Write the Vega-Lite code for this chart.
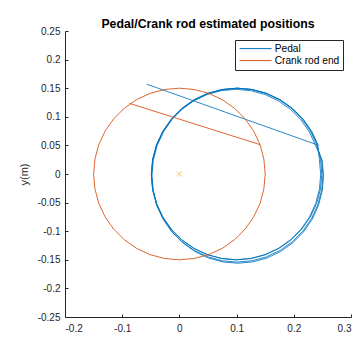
{
  "$schema": "https://vega.github.io/schema/vega-lite/v6.json",
  "width": 286,
  "height": 286,
  "autosize": {"type": "none"},
  "padding": {"left": 65, "top": 31, "right": 9, "bottom": 21},
  "background": "white",
  "config": {
    "font": "Liberation Sans",
    "view": {"stroke": null},
    "axis": {
      "grid": false,
      "domainColor": "#262626",
      "tickColor": "#262626",
      "labelColor": "#262626",
      "labelFontSize": 10,
      "tickSize": -3,
      "titleColor": "#262626",
      "titleFontWeight": "normal",
      "titleFontSize": 11
    }
  },
  "title": {"text": "Pedal/Crank rod estimated positions", "fontSize": 12.3, "fontWeight": "bold", "color": "#000000", "offset": -4.3, "anchor": "middle"},
  "datasets": {
    "pedal": [
      {"i":0,"x":-0.057,"y":0.157},{"i":1,"x":0.2400,"y":0.0513},
      {"i":2,"x":0.2467,"y":0.0260},{"i":3,"x":0.2490,"y":0},{"i":4,"x":0.2467,"y":-0.0260},{"i":5,"x":0.2400,"y":-0.0513},{"i":6,"x":0.2290,"y":-0.075},{"i":7,"x":0.2141,"y":-0.0964},{"i":8,"x":0.1958,"y":-0.1149},{"i":9,"x":0.1745,"y":-0.1299},{"i":10,"x":0.1510,"y":-0.1410},{"i":11,"x":0.1259,"y":-0.1477},{"i":12,"x":0.1000,"y":-0.150},{"i":13,"x":0.0741,"y":-0.1477},{"i":14,"x":0.0490,"y":-0.1410},{"i":15,"x":0.0255,"y":-0.1299},{"i":16,"x":0.0042,"y":-0.1149},{"i":17,"x":-0.0141,"y":-0.0964},{"i":18,"x":-0.0290,"y":-0.075},{"i":19,"x":-0.0400,"y":-0.0513},{"i":20,"x":-0.0467,"y":-0.0260},{"i":21,"x":-0.0490,"y":0},{"i":22,"x":-0.0467,"y":0.0260},{"i":23,"x":-0.0400,"y":0.0513},{"i":24,"x":-0.0290,"y":0.075},{"i":25,"x":-0.0141,"y":0.0964},{"i":26,"x":0.0042,"y":0.1149},{"i":27,"x":0.0255,"y":0.1299},{"i":28,"x":0.0490,"y":0.1410},{"i":29,"x":0.0741,"y":0.1477},{"i":30,"x":0.1000,"y":0.150},{"i":31,"x":0.1259,"y":0.1477},{"i":32,"x":0.1510,"y":0.1410},{"i":33,"x":0.1745,"y":0.1299},{"i":34,"x":0.1958,"y":0.1149},{"i":35,"x":0.2141,"y":0.0964},{"i":36,"x":0.2290,"y":0.075},{"i":37,"x":0.2400,"y":0.0513},
      {"i":38,"x":0.2487,"y":0.0244},{"i":39,"x":0.2510,"y":-0.002},{"i":40,"x":0.2487,"y":-0.0284},{"i":41,"x":0.2420,"y":-0.0540},{"i":42,"x":0.2309,"y":-0.078},{"i":43,"x":0.2159,"y":-0.0997},{"i":44,"x":0.1974,"y":-0.1184},{"i":45,"x":0.1760,"y":-0.1336},{"i":46,"x":0.1523,"y":-0.1448},{"i":47,"x":0.1270,"y":-0.1517},{"i":48,"x":0.1010,"y":-0.154},{"i":49,"x":0.0750,"y":-0.1517},{"i":50,"x":0.0497,"y":-0.1448},{"i":51,"x":0.0260,"y":-0.1336},{"i":52,"x":0.0046,"y":-0.1184},{"i":53,"x":-0.0139,"y":-0.0997},{"i":54,"x":-0.0289,"y":-0.078},{"i":55,"x":-0.0400,"y":-0.0540},{"i":56,"x":-0.0467,"y":-0.0284},{"i":57,"x":-0.0490,"y":-0.002},{"i":58,"x":-0.0467,"y":0.0244},{"i":59,"x":-0.0400,"y":0.0500},{"i":60,"x":-0.0289,"y":0.0740},{"i":61,"x":-0.0139,"y":0.0957},{"i":62,"x":0.0046,"y":0.1144},{"i":63,"x":0.0260,"y":0.1296},{"i":64,"x":0.0497,"y":0.1408},{"i":65,"x":0.0750,"y":0.1477},{"i":66,"x":0.1010,"y":0.150},{"i":67,"x":0.1270,"y":0.1477},{"i":68,"x":0.1523,"y":0.1408},{"i":69,"x":0.1760,"y":0.1296},{"i":70,"x":0.1974,"y":0.1144},{"i":71,"x":0.2159,"y":0.0957},{"i":72,"x":0.2309,"y":0.0740},{"i":73,"x":0.2420,"y":0.0500},
      {"i":74,"x":0.2448,"y":0.0249},{"i":75,"x":0.2470,"y":-0.001},{"i":76,"x":0.2448,"y":-0.0269},{"i":77,"x":0.2381,"y":-0.0520},{"i":78,"x":0.2272,"y":-0.0755},{"i":79,"x":0.2124,"y":-0.0968},{"i":80,"x":0.1941,"y":-0.1151},{"i":81,"x":0.1730,"y":-0.1300},{"i":82,"x":0.1496,"y":-0.1410},{"i":83,"x":0.1247,"y":-0.1477},{"i":84,"x":0.0990,"y":-0.150},{"i":85,"x":0.0733,"y":-0.1477},{"i":86,"x":0.0484,"y":-0.1410},{"i":87,"x":0.0250,"y":-0.1300},{"i":88,"x":0.0039,"y":-0.1151},{"i":89,"x":-0.0144,"y":-0.0968},{"i":90,"x":-0.0292,"y":-0.0755},{"i":91,"x":-0.0401,"y":-0.0520},{"i":92,"x":-0.0468,"y":-0.0269},{"i":93,"x":-0.0490,"y":-0.001},{"i":94,"x":-0.0468,"y":0.0249},{"i":95,"x":-0.0401,"y":0.0500},{"i":96,"x":-0.0292,"y":0.0735},{"i":97,"x":-0.0144,"y":0.0948},{"i":98,"x":0.0039,"y":0.1131},{"i":99,"x":0.0250,"y":0.1280},{"i":100,"x":0.0484,"y":0.1390},{"i":101,"x":0.0733,"y":0.1457},{"i":102,"x":0.0990,"y":0.148},{"i":103,"x":0.1247,"y":0.1457},{"i":104,"x":0.1496,"y":0.1390},{"i":105,"x":0.1730,"y":0.1280},{"i":106,"x":0.1941,"y":0.1131},{"i":107,"x":0.2124,"y":0.0948},{"i":108,"x":0.2272,"y":0.0735},{"i":109,"x":0.2381,"y":0.0500},
      {"i":110,"x":0.2497,"y":0.0236},{"i":111,"x":0.2520,"y":-0.003},{"i":112,"x":0.2497,"y":-0.0296},{"i":113,"x":0.2430,"y":-0.0553},{"i":114,"x":0.2319,"y":-0.0795},{"i":115,"x":0.2169,"y":-0.1013},{"i":116,"x":0.1984,"y":-0.1202},{"i":117,"x":0.1770,"y":-0.1355},{"i":118,"x":0.1533,"y":-0.1468},{"i":119,"x":0.1280,"y":-0.1537},{"i":120,"x":0.1020,"y":-0.156},{"i":121,"x":0.0760,"y":-0.1537},{"i":122,"x":0.0507,"y":-0.1468},{"i":123,"x":0.0270,"y":-0.1355},{"i":124,"x":0.0056,"y":-0.1202},{"i":125,"x":-0.0129,"y":-0.1013},{"i":126,"x":-0.0279,"y":-0.0795},{"i":127,"x":-0.0390,"y":-0.0553},{"i":128,"x":-0.0457,"y":-0.0296},{"i":129,"x":-0.0480,"y":-0.003},{"i":130,"x":-0.0457,"y":0.0236},{"i":131,"x":-0.0390,"y":0.0493},{"i":132,"x":-0.0279,"y":0.0735},{"i":133,"x":-0.0129,"y":0.0953},{"i":134,"x":0.0056,"y":0.1142},{"i":135,"x":0.0270,"y":0.1295},{"i":136,"x":0.0507,"y":0.1408},{"i":137,"x":0.0760,"y":0.1477},{"i":138,"x":0.1020,"y":0.150},{"i":139,"x":0.1280,"y":0.1477},{"i":140,"x":0.1533,"y":0.1408},{"i":141,"x":0.1770,"y":0.1295},{"i":142,"x":0.1984,"y":0.1142},{"i":143,"x":0.2169,"y":0.0953},{"i":144,"x":0.2319,"y":0.0735},{"i":145,"x":0.2430,"y":0.0493}
    ],
    "crank": [
      {"i":0,"x":-0.0876,"y":0.1236},{"i":1,"x":0.1410,"y":0.0513},
      {"i":2,"x":0.1477,"y":0.0260},{"i":3,"x":0.150,"y":0},{"i":4,"x":0.1477,"y":-0.0260},{"i":5,"x":0.1410,"y":-0.0513},{"i":6,"x":0.1299,"y":-0.075},{"i":7,"x":0.1149,"y":-0.0964},{"i":8,"x":0.0964,"y":-0.1149},{"i":9,"x":0.075,"y":-0.1299},{"i":10,"x":0.0513,"y":-0.1410},{"i":11,"x":0.0260,"y":-0.1477},{"i":12,"x":0,"y":-0.150},{"i":13,"x":-0.0260,"y":-0.1477},{"i":14,"x":-0.0513,"y":-0.1410},{"i":15,"x":-0.075,"y":-0.1299},{"i":16,"x":-0.0964,"y":-0.1149},{"i":17,"x":-0.1149,"y":-0.0964},{"i":18,"x":-0.1299,"y":-0.075},{"i":19,"x":-0.1410,"y":-0.0513},{"i":20,"x":-0.1477,"y":-0.0260},{"i":21,"x":-0.150,"y":0},{"i":22,"x":-0.1477,"y":0.0260},{"i":23,"x":-0.1410,"y":0.0513},{"i":24,"x":-0.1299,"y":0.075},{"i":25,"x":-0.1149,"y":0.0964},{"i":26,"x":-0.0964,"y":0.1149},{"i":27,"x":-0.075,"y":0.1299},{"i":28,"x":-0.0513,"y":0.1410},{"i":29,"x":-0.0260,"y":0.1477},{"i":30,"x":0,"y":0.150},{"i":31,"x":0.0260,"y":0.1477},{"i":32,"x":0.0513,"y":0.1410},{"i":33,"x":0.075,"y":0.1299},{"i":34,"x":0.0964,"y":0.1149},{"i":35,"x":0.1149,"y":0.0964},{"i":36,"x":0.1299,"y":0.075},{"i":37,"x":0.1410,"y":0.0513}
    ],
    "center": [{"x": 0, "y": 0}]
  },
  "encoding": {
    "x": {
      "field": "x", "type": "quantitative",
      "scale": {"domain": [-0.2, 0.3], "nice": false, "zero": false},
      "axis": {"values": [-0.2, -0.1, 0, 0.1, 0.2, 0.3], "labelExpr": "toString(datum.value)", "title": null, "labelPadding": 9}
    },
    "y": {
      "field": "y", "type": "quantitative",
      "scale": {"domain": [-0.25, 0.25], "nice": false, "zero": false},
      "axis": {"values": [-0.25, -0.2, -0.15, -0.1, -0.05, 0, 0.05, 0.1, 0.15, 0.2, 0.25], "labelExpr": "toString(datum.value)", "title": "y(m)", "labelPadding": 8, "titlePadding": 8}
    }
  },
  "layer": [
    {
      "data": {"name": "pedal"},
      "mark": {"type": "line", "strokeWidth": 0.85},
      "encoding": {
        "color": {
          "datum": "Pedal",
          "scale": {"domain": ["Pedal", "Crank rod end"], "range": ["#0072BD", "#D95319"]},
          "legend": {"orient": "none", "legendX": 170, "legendY": 9, "title": null, "symbolType": "M-1,0L7,0", "symbolSize": 64, "symbolStrokeWidth": 1, "labelFontSize": 10.2, "labelColor": "#000000", "strokeColor": "#262626", "fillColor": "white", "padding": 3.5, "rowPadding": 1, "labelOffset": 26}
        },
        "order": {"field": "i", "type": "quantitative"}
      }
    },
    {
      "data": {"name": "crank"},
      "mark": {"type": "line", "strokeWidth": 0.9},
      "encoding": {
        "color": {"datum": "Crank rod end"},
        "order": {"field": "i", "type": "quantitative"}
      }
    },
    {
      "data": {"name": "center"},
      "mark": {"type": "point", "shape": "M-1,-1L1,1M1,-1L-1,1", "size": 25, "filled": false, "strokeWidth": 1, "color": "#EDB120"}
    }
  ]
}
